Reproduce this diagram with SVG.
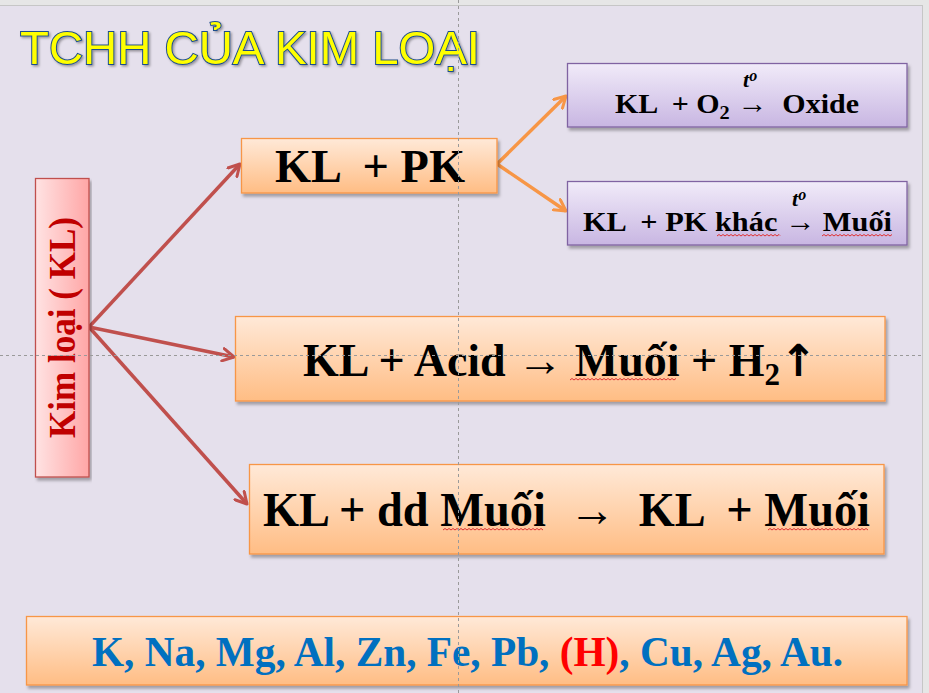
<svg xmlns="http://www.w3.org/2000/svg" width="929" height="693" viewBox="0 0 929 693">
<defs>
<linearGradient id="gOr" x1="0" y1="0" x2="0" y2="1"><stop offset="0" stop-color="#ffe9d8"/><stop offset="1" stop-color="#ffbd84"/></linearGradient>
<linearGradient id="gPu" x1="0" y1="0" x2="0" y2="1"><stop offset="0" stop-color="#f1ebf9"/><stop offset="1" stop-color="#c8b6e2"/></linearGradient>
<linearGradient id="gPk" x1="0" y1="0" x2="1" y2="0"><stop offset="0" stop-color="#ffe3e3"/><stop offset="1" stop-color="#ffa6a6"/></linearGradient>
<filter id="sh" x="-5%" y="-10%" width="110%" height="130%"><feDropShadow dx="2" dy="3" stdDeviation="1.5" flood-color="#000" flood-opacity="0.3"/></filter>
<filter id="tsh" x="-5%" y="-20%" width="110%" height="140%"><feDropShadow dx="1.5" dy="1.5" stdDeviation="1" flood-color="#000" flood-opacity="0.35"/></filter>
<marker id="mR" viewBox="0 0 12 12" refX="10" refY="6" markerWidth="15" markerHeight="15" markerUnits="userSpaceOnUse" orient="auto"><path d="M1,1 L10,6 L1,11" fill="none" stroke="#c0504d" stroke-width="2.4" stroke-linecap="round" stroke-linejoin="round"/></marker>
<marker id="mO" viewBox="0 0 12 12" refX="10" refY="6" markerWidth="15" markerHeight="15" markerUnits="userSpaceOnUse" orient="auto"><path d="M1,1 L10,6 L1,11" fill="none" stroke="#f79646" stroke-width="2.4" stroke-linecap="round" stroke-linejoin="round"/></marker>
</defs>
<style>
.eq{font-family:"Liberation Serif","Times New Roman",serif;font-weight:bold;fill:#000}
.to{font-family:"Liberation Serif","Times New Roman",serif;font-weight:bold;font-style:italic;fill:#000}
.or{fill:url(#gOr);stroke:#f79646;stroke-width:1.3}
.pu{fill:url(#gPu);stroke:#8064a2;stroke-width:1.3}
.sq{fill:none;stroke:#e03030;stroke-width:1}
.guide{stroke:#9a9a9a;stroke-width:1;stroke-dasharray:3 3;fill:none}
</style>
<rect x="0" y="0" width="929" height="693" fill="#e6e6e6"/>
<rect x="-1" y="5.5" width="923.5" height="690" fill="#e5e0ec" stroke="#c6c6c6" stroke-width="1"/>

<g id="title">
<text x="20" y="63.5" font-family="'Liberation Sans',Arial,sans-serif" font-size="47" fill="#ffff00" stroke="#1f4e8c" stroke-width="2" paint-order="stroke" filter="url(#tsh)" textLength="460" lengthAdjust="spacingAndGlyphs">TCHH CỦA KIM LOẠI</text>
</g>

<g id="connectors">
<line x1="89" y1="327" x2="240" y2="164" stroke="#c0504d" stroke-width="3.5" marker-end="url(#mR)"/>
<line x1="89" y1="327" x2="234" y2="357" stroke="#c0504d" stroke-width="3.5" marker-end="url(#mR)"/>
<line x1="89" y1="327" x2="247" y2="504" stroke="#c0504d" stroke-width="3.5" marker-end="url(#mR)"/>
<line x1="497" y1="164" x2="566" y2="96" stroke="#f79646" stroke-width="3.5" marker-end="url(#mO)"/>
<line x1="497" y1="164" x2="566" y2="211" stroke="#f79646" stroke-width="3.5" marker-end="url(#mO)"/>
</g>

<g id="kimloai">
<rect x="35.5" y="178.5" width="53.5" height="298.5" fill="url(#gPk)" stroke="#c0504d" stroke-width="1.3" filter="url(#sh)"/>
<text transform="translate(75,327.5) rotate(-90)" x="0" y="0" text-anchor="middle" font-family="'Liberation Serif','Times New Roman',serif" font-weight="bold" font-size="37" fill="#c00000" textLength="221" lengthAdjust="spacingAndGlyphs">Kim loại ( KL)</text>
</g>

<g id="klpk">
<rect class="or" x="241.5" y="138.5" width="255.5" height="54.5" filter="url(#sh)"/>
<text class="eq" x="275" y="182" font-size="46" textLength="190" lengthAdjust="spacingAndGlyphs" xml:space="preserve">KL  + PK</text>
</g>

<g id="oxide">
<rect class="pu" x="567.5" y="63.5" width="339.5" height="63.5" filter="url(#sh)"/>
<text class="eq" x="615" y="113" font-size="28" textLength="244" lengthAdjust="spacingAndGlyphs" xml:space="preserve">KL  + O<tspan font-size="19" dy="6">2</tspan><tspan dy="-6"> →  Oxide</tspan></text>
<text class="to" x="743" y="87" font-size="22">t<tspan font-size="16" dy="-6">o</tspan></text>
</g>

<g id="muoi1">
<rect class="pu" x="567.5" y="181.5" width="339.5" height="63.5" filter="url(#sh)"/>
<text class="eq" x="583" y="231" font-size="28" textLength="309" lengthAdjust="spacingAndGlyphs" xml:space="preserve">KL  + PK khác → Muối</text>
<text class="to" x="792" y="206" font-size="22">t<tspan font-size="16" dy="-6">o</tspan></text>
<path class="sq" d="M717,236 l2,-1.5 l2,1.5 l2,-1.5 l2,1.5 l2,-1.5 l2,1.5 l2,-1.5 l2,1.5 l2,-1.5 l2,1.5 l2,-1.5 l2,1.5 l2,-1.5 l2,1.5 l2,-1.5 l2,1.5 l2,-1.5 l2,1.5 l2,-1.5 l2,1.5 l2,-1.5 l2,1.5 l2,-1.5 l2,1.5 l2,-1.5 l2,1.5 l2,-1.5 l2,1.5 l2,-1.5 l2,1.5 l2,-1.5 l1,1"/>
<path class="sq" d="M822,236 l2,-1.5 l2,1.5 l2,-1.5 l2,1.5 l2,-1.5 l2,1.5 l2,-1.5 l2,1.5 l2,-1.5 l2,1.5 l2,-1.5 l2,1.5 l2,-1.5 l2,1.5 l2,-1.5 l2,1.5 l2,-1.5 l2,1.5 l2,-1.5 l2,1.5 l2,-1.5 l2,1.5 l2,-1.5 l2,1.5 l2,-1.5 l2,1.5 l2,-1.5 l2,1.5 l2,-1.5 l2,1.5 l2,-1.5 l2,1.5 l2,-1.5 l2,1.5 l2,-1.5"/>
</g>

<g id="acid">
<rect class="or" x="235.5" y="316.5" width="649.5" height="84.5" filter="url(#sh)"/>
<text class="eq" x="303" y="376" font-size="46" textLength="514" lengthAdjust="spacingAndGlyphs" xml:space="preserve">KL + Acid → Muối + H<tspan font-size="31" dy="9">2</tspan><tspan dy="-9" font-family="'DejaVu Sans',sans-serif" font-size="44">↑</tspan></text>
<path class="sq" d="M570,380 l2,-1.5 l2,1.5 l2,-1.5 l2,1.5 l2,-1.5 l2,1.5 l2,-1.5 l2,1.5 l2,-1.5 l2,1.5 l2,-1.5 l2,1.5 l2,-1.5 l2,1.5 l2,-1.5 l2,1.5 l2,-1.5 l2,1.5 l2,-1.5 l2,1.5 l2,-1.5 l2,1.5 l2,-1.5 l2,1.5 l2,-1.5 l2,1.5 l2,-1.5 l2,1.5 l2,-1.5 l2,1.5 l2,-1.5 l2,1.5 l2,-1.5 l2,1.5 l2,-1.5 l2,1.5 l2,-1.5 l2,1.5 l2,-1.5 l2,1.5 l2,-1.5 l2,1.5 l2,-1.5 l2,1.5 l2,-1.5 l2,1.5 l2,-1.5 l2,1.5 l2,-1.5 l2,1.5 l2,-1.5 l2,1.5 l2,-1.5"/>
</g>

<g id="ddmuoi">
<rect class="or" x="249.5" y="464.5" width="634.5" height="89.5" filter="url(#sh)"/>
<text class="eq" x="263" y="526" font-size="48" textLength="607" lengthAdjust="spacingAndGlyphs" xml:space="preserve">KL + dd Muối  →  KL  + Muối</text>
<path class="sq" d="M443,530 l2,-1.5 l2,1.5 l2,-1.5 l2,1.5 l2,-1.5 l2,1.5 l2,-1.5 l2,1.5 l2,-1.5 l2,1.5 l2,-1.5 l2,1.5 l2,-1.5 l2,1.5 l2,-1.5 l2,1.5 l2,-1.5 l2,1.5 l2,-1.5 l2,1.5 l2,-1.5 l2,1.5 l2,-1.5 l2,1.5 l2,-1.5 l2,1.5 l2,-1.5 l2,1.5 l2,-1.5 l2,1.5 l2,-1.5 l2,1.5 l2,-1.5 l2,1.5 l2,-1.5 l2,1.5 l2,-1.5 l2,1.5 l2,-1.5 l2,1.5 l2,-1.5 l2,1.5 l2,-1.5 l2,1.5 l2,-1.5 l2,1.5 l2,-1.5 l2,1.5 l2,-1.5 l2,1.5"/>
<path class="sq" d="M768,530 l2,-1.5 l2,1.5 l2,-1.5 l2,1.5 l2,-1.5 l2,1.5 l2,-1.5 l2,1.5 l2,-1.5 l2,1.5 l2,-1.5 l2,1.5 l2,-1.5 l2,1.5 l2,-1.5 l2,1.5 l2,-1.5 l2,1.5 l2,-1.5 l2,1.5 l2,-1.5 l2,1.5 l2,-1.5 l2,1.5 l2,-1.5 l2,1.5 l2,-1.5 l2,1.5 l2,-1.5 l2,1.5 l2,-1.5 l2,1.5 l2,-1.5 l2,1.5 l2,-1.5 l2,1.5 l2,-1.5 l2,1.5 l2,-1.5 l2,1.5 l2,-1.5 l2,1.5 l2,-1.5 l2,1.5 l2,-1.5 l2,1.5 l2,-1.5 l2,1.5 l2,-1.5 l2,1.5"/>
</g>

<g id="series">
<rect class="or" x="26.5" y="616.5" width="880.5" height="68.5" filter="url(#sh)"/>
<text x="92" y="666" font-family="'Liberation Serif','Times New Roman',serif" font-weight="bold" font-size="43" fill="#0070c0" textLength="751" lengthAdjust="spacingAndGlyphs">K, Na, Mg, Al, Zn, Fe, Pb, <tspan fill="#ff0000">(H)</tspan>, Cu, Ag, Au.</text>
</g>

<g id="guides">
<line class="guide" x1="458.5" y1="0" x2="458.5" y2="693"/>
<line class="guide" x1="0" y1="355.5" x2="922" y2="355.5"/>
</g>
</svg>
